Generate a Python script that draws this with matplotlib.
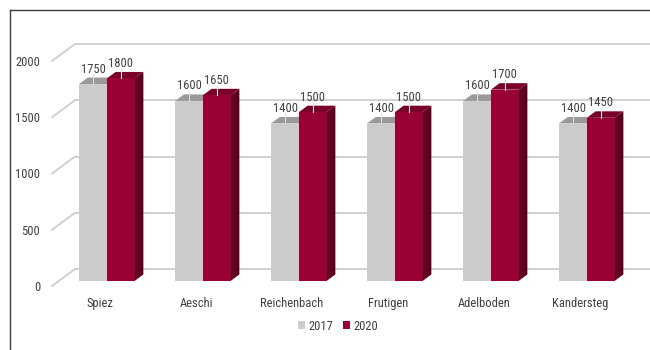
import matplotlib
matplotlib.use("Agg")
import matplotlib.pyplot as plt
from matplotlib import font_manager
from matplotlib.patches import Polygon, Patch
from matplotlib.lines import Line2D

categories = ["Spiez", "Aeschi", "Reichenbach", "Frutigen", "Adelboden", "Kandersteg"]
values_2017 = [1750, 1600, 1400, 1400, 1600, 1400]
values_2020 = [1800, 1650, 1500, 1500, 1700, 1450]
series_labels = ["2017", "2020"]
y_ticks = [0, 500, 1000, 1500, 2000]

# prefer a narrow sans face for the labels
_installed = {f.name for f in font_manager.fontManager.ttflist}
_narrow = [f.name for f in font_manager.fontManager.ttflist
           if ("Narrow" in f.name or "Condensed" in f.name) and "Bold" not in f.name]
_family = None
for cand in ["Roboto Condensed", "Liberation Sans Narrow", "Arial Narrow",
             "Open Sans Condensed", "Noto Sans Condensed", "DejaVu Sans Condensed"] + _narrow:
    if cand in _installed:
        _family = cand
        break
_stretch = "normal"
if _family is None:
    _cond = [f for f in font_manager.fontManager.ttflist
             if f.stretch in ("condensed", "semi-condensed", "extra-condensed", 500, 400, 300)
             and f.weight in ("normal", 400, "regular", "book") and f.style == "normal"]
    if _cond:
        _family = _cond[0].name
        _stretch = _cond[0].stretch
    else:
        _family = "Roboto"
plt.rcParams["font.family"] = [_family, "DejaVu Sans"]
plt.rcParams["font.stretch"] = _stretch

TEXT = "#404040"
GRID = "#d0d0d0"
FACES = [
    {"front": "#cccccc", "side": "#a6a6a6", "top": "#999999"},   # 2017
    {"front": "#990033", "side": "#5e0021", "top": "#7a0029"},   # 2020
]

W, H = 650, 350
fig = plt.figure(figsize=(W / 100, H / 100), dpi=100)
ax = fig.add_axes([52 / W, 64 / H, 576 / W, 225 / H])
ax.set_xlim(-0.5, len(categories) - 0.5)
ax.set_ylim(0, 2000)

# oblique depth of the chart box, expressed in data units
px_per_cat = 576 / len(categories)
px_per_val = 225 / 2000
DX = 23 / px_per_cat
DY = 17 / px_per_val


def proj(x, v, d):
    return (x + DX * d, v + DY * d)


# walls: back-wall gridlines and side-wall diagonals
x_left, x_right = -0.5, len(categories) - 0.5
for t in y_ticks:
    bx0, by = proj(x_left, t, 1)
    bx1, _ = proj(x_right, t, 1)
    ax.add_line(Line2D([bx0, bx1], [by, by], color=GRID, lw=1.4, clip_on=False, zorder=1))
    fx, fy = proj(x_left, t, 0)
    ax.add_line(Line2D([fx, bx0], [fy, by], color=GRID, lw=1.4, clip_on=False, zorder=1))

# 3D columns
BW = 0.289
D0, D1 = 0.30, 0.68
z = 2
for i in range(len(categories)):
    for s, vals in enumerate([values_2017, values_2020]):
        v = vals[i]
        x0 = i - BW if s == 0 else i
        x1 = x0 + BW
        c = FACES[s]
        top = [proj(x0, v, D0), proj(x1, v, D0), proj(x1, v, D1), proj(x0, v, D1)]
        side = [proj(x1, 0, D0), proj(x1, 0, D1), proj(x1, v, D1), proj(x1, v, D0)]
        front = [proj(x0, 0, D0), proj(x1, 0, D0), proj(x1, v, D0), proj(x0, v, D0)]
        for pts, col in ((top, c["top"]), (side, c["side"]), (front, c["front"])):
            ax.add_patch(Polygon(pts, closed=True, facecolor=col, edgecolor="none",
                                 clip_on=False, zorder=z))
        # value label with a short leader line
        xc, yt = proj((x0 + x1) / 2, v, D0)
        ax.add_line(Line2D([xc, xc], [yt, yt + 85], color="#dddddd", lw=0.8,
                           clip_on=False, zorder=z + 0.5))
        ax.text(xc, yt + 133, f"{v}", ha="center", va="center", fontsize=9,
                color=TEXT, zorder=z + 1, clip_on=False)
        z += 2

ax.set_xticks(range(len(categories)))
ax.set_xticklabels(categories)
ax.set_yticks(y_ticks)
ax.set_yticklabels([str(t) for t in y_ticks])
ax.tick_params(axis="both", length=0, labelsize=9, labelcolor=TEXT)
ax.tick_params(axis="y", pad=8.6)
ax.tick_params(axis="x", pad=8)
for sp in ax.spines.values():
    sp.set_visible(False)
ax.patch.set_visible(False)

handles = [Patch(facecolor=FACES[k]["front"], edgecolor="none") for k in range(2)]
fig.legend(handles, series_labels, loc="center", bbox_to_anchor=(338 / W, 1 - 326 / H),
           ncol=2, frameon=False, fontsize=9, labelcolor=TEXT,
           handlelength=0.55, handleheight=0.55, handletextpad=0.3, columnspacing=0.8)

# outer frame (left and top edges)
fig.add_artist(Line2D([10 / W, 10 / W], [0, 1 - 10 / H], color="#3c3c3c", lw=1.0,
                      transform=fig.transFigure))
fig.add_artist(Line2D([10 / W, 1], [1 - 10 / H, 1 - 10 / H], color="#3c3c3c", lw=1.0,
                      transform=fig.transFigure))

fig.savefig("out.png", dpi=100)
